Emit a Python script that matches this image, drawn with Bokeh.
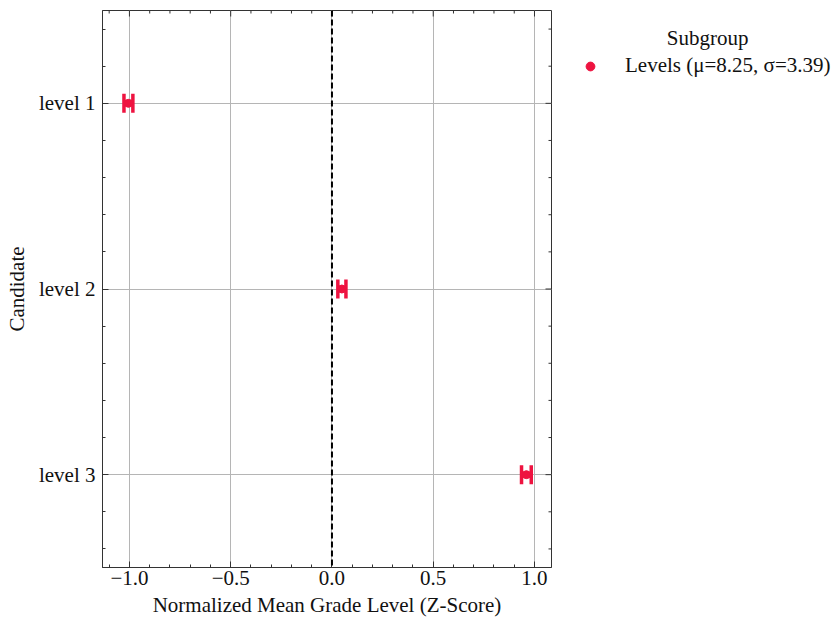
import math
from bokeh.plotting import figure
from bokeh.models import (ColumnDataSource, Whisker, TeeHead, Range1d, FixedTicker,
                          Legend, LegendItem, Span)
from bokeh.embed import file_html
from bokeh.resources import INLINE

# ---- data ----
candidates = ["level 1", "level 2", "level 3"]
z_means = [-1.005, 0.049, 0.960]
z_errs = [0.022, 0.020, 0.024]
x_ticks = [-1.0, -0.5, 0.0, 0.5, 1.0]
x_tick_labels = ["\u22121.0", "\u22120.5", "0.0", "0.5", "1.0"]
legend_title = "Subgroup"
legend_label = "Levels (\u03bc=8.25, \u03c3=3.39)"
x_label = "Normalized Mean Grade Level (Z-Score)"
y_label = "Candidate"

FONT = "Liberation Serif"
FS = "21px"
RED = "#EE1340"
SPINE = "#333333"
TXT = "#111111"

X0, X1 = -1.133, 1.084
Y0, Y1 = -0.5, 2.5

ypos = list(range(len(candidates)))
src = ColumnDataSource(dict(
    x=z_means, y=ypos,
    lower=[m - e for m, e in zip(z_means, z_errs)],
    upper=[m + e for m, e in zip(z_means, z_errs)],
))

p = figure(frame_width=449, frame_height=557, output_backend="svg", toolbar_location=None,
           x_range=Range1d(X0, X1), y_range=Range1d(Y1, Y0),
           min_border_left=102, min_border_top=10, min_border_bottom=40, min_border_right=0)

p.background_fill_color = "white"
p.border_fill_color = "white"
p.outline_line_color = SPINE
p.outline_line_width = 1

x_minor = [v for v in (round(-1.1 + 0.1 * i, 2) for i in range(23))
           if v not in x_ticks and X0 <= v <= X1]
y_minor = [v for v in (round(-0.4 + 0.2 * i, 2) for i in range(15))
           if v not in ypos and Y0 <= v <= Y1]
x_ticker = FixedTicker(ticks=x_ticks, minor_ticks=x_minor)
y_ticker = FixedTicker(ticks=ypos, minor_ticks=y_minor)

def style_axis(ax):
    ax.axis_line_color = SPINE
    ax.axis_line_width = 1
    ax.major_tick_in = 6
    ax.major_tick_out = 0
    ax.minor_tick_in = 3
    ax.minor_tick_out = 0
    ax.major_tick_line_color = SPINE
    ax.minor_tick_line_color = SPINE
    ax.major_label_text_font = FONT
    ax.major_label_text_font_size = FS
    ax.major_label_text_color = TXT
    ax.axis_label_text_font = FONT
    ax.axis_label_text_font_size = FS
    ax.axis_label_text_font_style = "normal"
    ax.axis_label_text_color = TXT

xa = p.xaxis[0]
xa.ticker = x_ticker
xa.major_label_overrides = {t: l for t, l in zip(x_ticks, x_tick_labels)}
xa.axis_label = x_label
style_axis(xa)
xa.major_label_standoff = 3
xa.axis_label_standoff = 5

ya = p.yaxis[0]
ya.ticker = y_ticker
ya.major_label_overrides = {i: c for i, c in zip(ypos, candidates)}
ya.axis_label = y_label
style_axis(ya)
ya.major_label_standoff = 7
ya.axis_label_standoff = 7

# inward ticks on the top and right spines
p.ray(x=x_ticks, y=[Y0] * len(x_ticks), length=6, length_units="screen",
      angle=-math.pi / 2, line_color=SPINE, line_width=1)
p.ray(x=x_minor, y=[Y0] * len(x_minor), length=3, length_units="screen",
      angle=-math.pi / 2, line_color=SPINE, line_width=1)
p.ray(x=[X1] * len(ypos), y=ypos, length=6, length_units="screen",
      angle=math.pi, line_color=SPINE, line_width=1)
p.ray(x=[X1] * len(y_minor), y=y_minor, length=3, length_units="screen",
      angle=math.pi, line_color=SPINE, line_width=1)

p.xgrid.ticker = x_ticker
p.ygrid.ticker = y_ticker
for g in (p.xgrid[0], p.ygrid[0]):
    g.grid_line_color = "#b5b5b5"
    g.grid_line_width = 1
    g.minor_grid_line_color = None

p.add_layout(Span(location=0, dimension="height", line_color="black",
                  line_width=2, line_dash="6 3"))

wh = Whisker(base="y", lower="lower", upper="upper", source=src, dimension="width",
             line_color=RED, line_width=6,
             upper_head=TeeHead(size=19, line_color=RED, line_width=3.5),
             lower_head=TeeHead(size=19, line_color=RED, line_width=3.5))
p.add_layout(wh)
r = p.scatter("x", "y", source=src, size=8, color=RED, marker="circle")

legend = Legend(items=[LegendItem(label=legend_label, renderers=[r])],
                title="\u00a0" * 19 + legend_title, location="top_left")
legend.title_text_font = FONT
legend.title_text_font_size = FS
legend.title_text_font_style = "normal"
legend.title_text_color = TXT
legend.label_text_font = FONT
legend.label_text_font_size = FS
legend.label_text_color = TXT
legend.border_line_color = None
legend.background_fill_alpha = 0
legend.margin = 16
legend.padding = 6
legend.glyph_width = 46
legend.glyph_height = 22
legend.label_standoff = 12
legend.title_standoff = 2
legend.spacing = 4
p.add_layout(legend, "right")

open("out.html", "w").write(file_html(p, INLINE))
